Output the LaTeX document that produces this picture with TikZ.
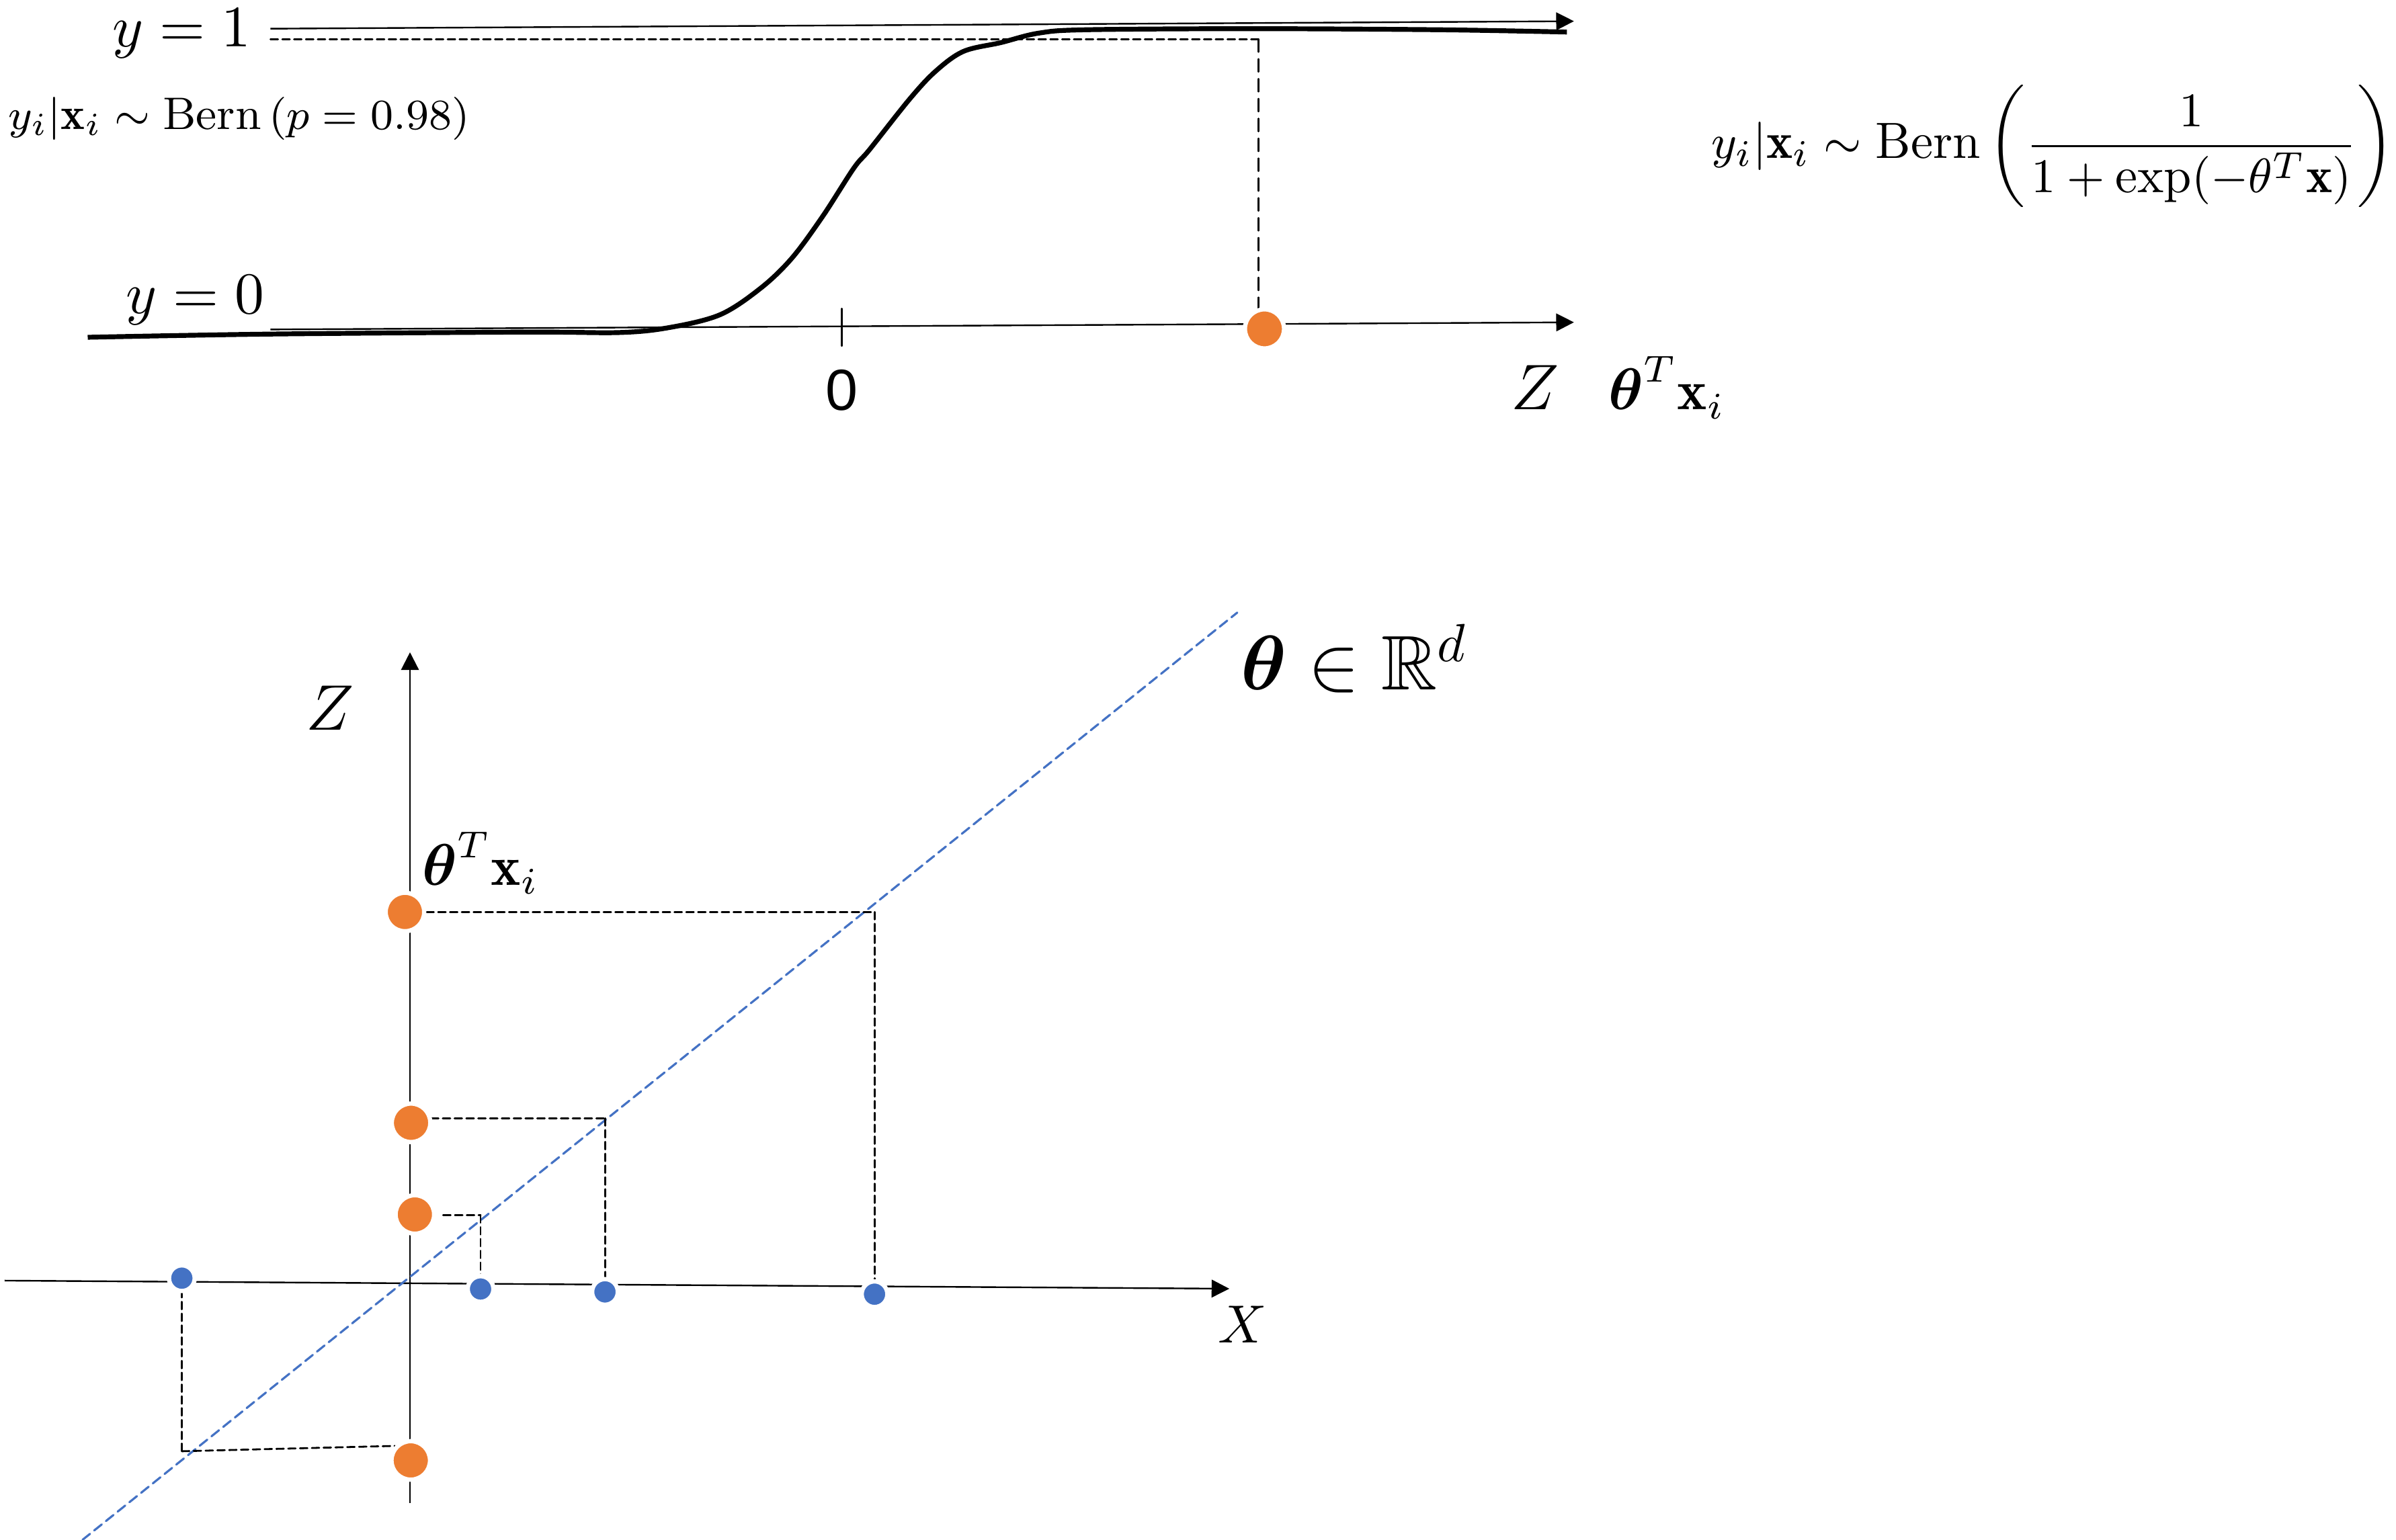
\documentclass[tikz,border=0pt]{standalone}
\usepackage{amsmath, amssymb}
\usepackage{fontspec}
\newfontfamily\axisfont{Liberation Sans}
\usepackage{tikz}
\usetikzlibrary{arrows.meta}
\usepackage{tkz-euclide}

\definecolor{dotorange}{HTML}{ED7D31}
\definecolor{lineblue}{HTML}{4472C4}

\tikzset{
  arrow axis/.style={line width=0.3pt, -{Triangle[length=3.3pt,width=3.3pt]}},
  tick mark/.style={line width=0.3pt},
  proj/.style={line width=0.35pt, dash pattern=on 1.4pt off 0.8pt},
  long proj/.style={line width=0.3pt, dash pattern=on 2.4pt off 1.3pt},
  theta line/.style={lineblue, line width=0.4pt, dash pattern=on 1.8pt off 1pt},
  sigmoid/.style={line width=0.9pt, line join=round},
  orange dot/.style={fill=dotorange, draw=white, line width=0.8pt},
  blue dot/.style={fill=lineblue, draw=white, line width=0.8pt},
  lab/.style={inner sep=0pt, anchor=base},
}

\begin{document}
\begin{tikzpicture}
            \useasboundingbox (0,0) rectangle (15.68,10.08);
            % upper panel: the link function
            \tkzDefPoints{1.77/9.892/U_0, 10.30/9.941/U_1, 1.77/7.923/L_0, 10.30/7.970/L_1}
            \tkzDefPoints{5.509/8.06/T_0, 5.509/7.815/T_1}
            \tkzDefPoints{1.77/9.824/D_0, 8.236/9.824/D_1, 8.236/7.927/D_2, 8.275/7.927/P}
            \draw[arrow axis] (U_0) -- (U_1);
            \draw[arrow axis] (L_0) -- (L_1);
            \tkzDrawSegment[tick mark](T_0,T_1)
            \tkzDrawSegment[proj](D_0,D_1)
            \tkzDrawSegment[long proj](D_1,D_2)
            \draw[sigmoid] plot[smooth, tension=0.55] coordinates {(0.574,7.872) (1.77,7.893)
              (3.437,7.906) (4.05,7.903) (4.376,7.935) (4.713,8.02) (4.98,8.195) (5.184,8.392)
              (5.386,8.667) (5.588,8.98) (5.69,9.10) (5.95,9.428) (6.12,9.611) (6.304,9.743)
              (6.55,9.801) (6.798,9.863) (7.107,9.885) (8.187,9.892) (9.42,9.885) (10.254,9.87)};
            \filldraw[orange dot] (P) circle (0.128);
            \node[lab, font=\fontsize{11.2}{13}\selectfont] (yone) at (1.19,9.773) {$y=1$};
            \node[lab, font=\fontsize{11.2}{13}\selectfont] (yzero) at (1.278,8.03) {$y=0$};
            \node[lab, font=\fontsize{8.5}{10}\selectfont] (bernp) at (1.565,9.235)
              {$y_i|\mathbf{x}_i \sim \mathrm{Bern}\left(p=0.98\right)$};
            \node[lab, font=\fontsize{9.5}{11}\selectfont] (bernsig) at (13.435,9.046)
              {\scalebox{0.98}[1]{$y_i|\mathbf{x}_i \sim \mathrm{Bern}\left(\dfrac{1}{1+\exp(-\theta^T\mathbf{x})}\right)$}};
            \node[font=\axisfont\fontsize{10.8}{12}\selectfont, inner sep=0pt] (zero) at (5.51,7.525) {0};
            \node[lab, font=\fontsize{13}{15}\selectfont] (zup) at (10.046,7.401) {$Z$};
            \node[lab, font=\fontsize{10.5}{12}\selectfont] (projup) at (10.908,7.397) {$\boldsymbol{\theta}^T\mathbf{x}_i$};
            % lower panel: the linear map
            \tkzDefPoints{2.683/0.24/Z_0, 2.683/5.81/Z_1, 0.03/1.697/X_0, 8.045/1.644/X_1,
              0.54/0/R_0, 8.097/6.07/R_1}
            \tkzDefPoints{2.65/4.11/O_1, 2.69/2.73/O_2, 2.715/2.13/O_3, 2.688/0.52/O_4}
            \tkzDefPoints{1.19/1.713/B_1, 3.145/1.642/B_2, 3.959/1.623/B_3, 5.723/1.608/B_4}
            \tkzDefPoints{5.723/4.11/C_1, 3.959/2.76/C_2, 3.145/2.125/C_3, 1.19/0.58/C_4}
            \tkzDefPoints{2.79/4.11/E_1, 2.82/2.76/E_2, 2.90/2.125/E_3, 2.585/0.615/E_4}
            \draw[arrow axis] (Z_0) -- (Z_1);
            \draw[arrow axis] (X_0) -- (X_1);
            \tkzDrawSegment[theta line](R_0,R_1)
            \tkzDrawSegments[proj](E_1,C_1 C_1,B_4 E_2,C_2 C_2,B_3 E_3,C_3 C_3,B_2 B_1,C_4 C_4,E_4)
            \filldraw[orange dot] (O_1) circle (0.126);
            \filldraw[orange dot] (O_2) circle (0.126);
            \filldraw[orange dot] (O_3) circle (0.126);
            \filldraw[orange dot] (O_4) circle (0.126);
            \filldraw[blue dot] (B_1) circle (0.084);
            \filldraw[blue dot] (B_2) circle (0.084);
            \filldraw[blue dot] (B_3) circle (0.084);
            \filldraw[blue dot] (B_4) circle (0.084);
            \node[lab, font=\fontsize{13}{15}\selectfont] (zdown) at (2.16,5.303) {$Z$};
            \node[lab, font=\fontsize{9.7}{12}\selectfont] (xdown) at (8.133,1.292) {$X$};
            \node[lab, font=\fontsize{10.5}{12}\selectfont] (projdown) at (3.145,4.285) {$\boldsymbol{\theta}^T\mathbf{x}_i$};
            \node[lab, font=\fontsize{14.4}{17}\selectfont] (space) at (8.863,5.564) {$\boldsymbol{\theta}\in\mathbb{R}^d$};
        \end{tikzpicture}
\end{document}
